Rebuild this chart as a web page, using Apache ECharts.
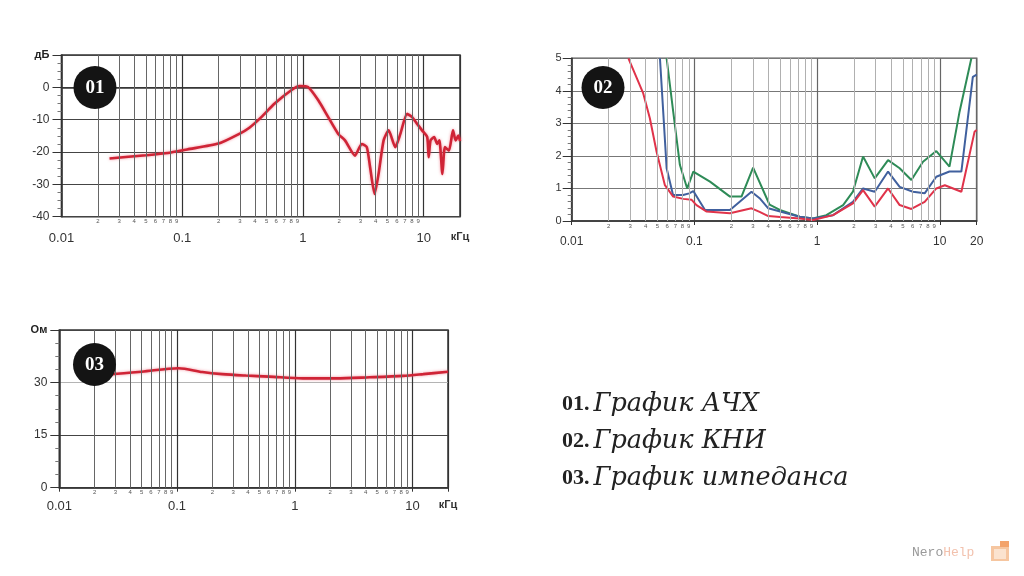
<!DOCTYPE html>
<html>
<head>
<meta charset="utf-8">
<script src="https://cdn.jsdelivr.net/npm/echarts@6/dist/echarts.min.js"></script>
<style>
html,body{margin:0;padding:0;background:#fff;}
#c{width:1024px;height:576px;}
</style>
</head>
<body>
<div id="c"></div>
<script>
// ---- Chart 01: frequency response (dB vs kHz)
const afcFreq = [0.025, 0.05, 0.076, 0.11, 0.2, 0.3, 0.36, 0.45, 0.58, 0.8, 0.94, 1.1, 1.34, 1.62, 1.96, 2.23, 2.7, 3.07, 3.38, 3.6, 3.92, 4.23, 4.66, 5.13, 5.82, 6.41, 7.29, 8.02, 8.83, 9.7, 10.7, 11.0, 11.4, 12.2, 12.96, 13.5, 14.3, 15.0, 16.2, 17.5, 18.4, 19.4, 20];
const afcDb   = [-22, -21, -20.3, -19.2, -17.4, -14.3, -12.5, -9.3, -5.1, -0.9, 0.4, 0.1, -4, -9.2, -14.4, -16.4, -21.1, -17.5, -18.5, -24.7, -33, -26.8, -16.4, -13.3, -18.5, -14.4, -8.2, -9.2, -11.3, -13.3, -15.4, -21.6, -16.4, -15.4, -17.5, -16.4, -26.8, -18.5, -19.6, -13.3, -16.4, -14.9, -16.6];
const afcYTicks = {min: -40, max: 10, step: 10, topLabel: 'дБ'};

// ---- Chart 02: THD (three curves)
const thdFreqRed   = [0.029, 0.0383, 0.0434, 0.0492, 0.0575, 0.0672, 0.081, 0.095, 0.104, 0.126, 0.195, 0.292, 0.34, 0.4, 0.5, 0.72, 0.93, 1.35, 1.96, 2.37, 2.95, 3.79, 4.71, 5.87, 7.53, 9.37, 11.0, 15, 19.2, 20];
const thdRed       = [5, 3.92, 3.15, 2.13, 1.1, 0.75, 0.68, 0.65, 0.49, 0.29, 0.24, 0.39, 0.28, 0.15, 0.12, 0.08, 0.03, 0.18, 0.54, 0.95, 0.44, 1.0, 0.49, 0.37, 0.59, 1.0, 1.1, 0.9, 2.74, 2.8];
const thdFreqBlue  = [0.0524, 0.0557, 0.0594, 0.067, 0.081, 0.0907, 0.098, 0.122, 0.195, 0.292, 0.34, 0.4, 0.5, 0.72, 0.93, 1.35, 1.96, 2.37, 2.95, 3.79, 4.71, 6.05, 7.53, 9.37, 12, 15, 18.6, 20];
const thdBlue      = [5, 3.36, 1.62, 0.8, 0.8, 0.85, 0.92, 0.34, 0.34, 0.9, 0.7, 0.39, 0.29, 0.13, 0.08, 0.18, 0.59, 1.0, 0.9, 1.52, 1.05, 0.9, 0.85, 1.36, 1.52, 1.52, 4.43, 4.5];
const thdFreqGreen = [0.0594, 0.0672, 0.0762, 0.0874, 0.098, 0.134, 0.195, 0.242, 0.301, 0.41, 0.497, 0.723, 0.927, 1.19, 1.63, 1.96, 2.37, 2.95, 3.79, 4.71, 5.87, 7.3, 9.37, 12.0, 14.5, 18.1];
const thdGreen     = [5, 3.36, 1.72, 1.0, 1.52, 1.21, 0.75, 0.75, 1.64, 0.5, 0.34, 0.13, 0.08, 0.18, 0.49, 0.9, 1.98, 1.31, 1.87, 1.62, 1.26, 1.82, 2.15, 1.67, 3.36, 5];

// ---- Chart 03: impedance (Ohm vs kHz)
const impFreq = [0.02, 0.028, 0.05, 0.103, 0.164, 0.242, 0.383, 0.605, 1.17, 2.24, 4.31, 8.3, 12.3, 20];
const impOhm  = [32.2, 32.4, 33.1, 34.1, 33.0, 32.4, 32.0, 31.7, 31.2, 31.2, 31.5, 31.9, 32.4, 33.1];

// ---- Text
const captions = [['01.', 'График АЧХ'], ['02.', 'График КНИ'], ['03.', 'График импеданса']];
const badges = ['01', '02', '03'];
const minorDigits = [2, 3, 4, 5, 6, 7, 8, 9];
const decades = [0.01, 0.1, 1, 10];

const pair = (xs, ys) => xs.map((x, i) => [x, ys[i]]);

function minorLines(maxF, color) {
  const out = [];
  decades.forEach(d => minorDigits.forEach(m => {
    const f = +(d * m).toPrecision(3);
    if (f < maxF) out.push({xAxis: f, label: {formatter: String(m)}});
  }));
  return {
    silent: true, symbol: ['none', 'none'], animation: false,
    lineStyle: {color: color, width: 1, type: 'solid'},
    emphasis: {disabled: true},
    label: {show: true, position: 'start', distance: 2, fontSize: 6, color: '#555', fontFamily: 'Liberation Sans'},
    data: out
  };
}

function xFmt(unit) {
  return v => {
    const r = +Number(v).toPrecision(3);
    if (r >= 19) return unit === 'кГц' ? '{u|кГц}' : unit;
    return String(r);
  };
}

function xAxis(gi, unit, decadeColor, margin, fs) {
  return {
    type: 'log', logBase: 10, gridIndex: gi, min: 0.01, max: 20,
    axisLine: {show: true, lineStyle: {color: '#333', width: 1.5}},
    axisTick: {show: true, length: 4, lineStyle: {color: '#333'}},
    axisLabel: {show: true, margin: margin, fontSize: fs, color: '#333', fontFamily: 'Liberation Sans',
      formatter: xFmt(unit), rich: {u: {fontWeight: 'bold', fontSize: 11, color: '#333', fontFamily: 'Liberation Sans'}}},
    splitLine: {show: true, lineStyle: {color: decadeColor, width: 1.2}}
  };
}

function yAxis(gi, min, max, step, topLabel, minorN, margin, fs, splitColor) {
  return {
    type: 'value', gridIndex: gi, min: min, max: max, interval: step,
    axisLine: {show: true, lineStyle: {color: '#333', width: 1.5}},
    axisTick: {show: true, length: 9, lineStyle: {color: '#333'}},
    minorTick: {show: true, splitNumber: minorN, length: 4, lineStyle: {color: '#777'}},
    axisLabel: {margin: margin, fontSize: fs, color: '#333', fontFamily: 'Liberation Sans',
      formatter: v => v === max ? (topLabel === String(max) ? topLabel : '{u|' + topLabel + '}') : String(v),
      rich: {u: {fontWeight: 'bold', fontSize: 11, color: '#222', fontFamily: 'Liberation Sans'}}},
    splitLine: {show: true, lineStyle: {color: splitColor, width: 1.2}}
  };
}

const redStyle = {color: '#cf2436', width: 2.6, shadowBlur: 3, shadowColor: 'rgba(235,80,100,0.6)'};

const option = {
  animation: false,
  backgroundColor: '#ffffff',
  grid: [
    {left: 61.5, top: 55, width: 398.5, height: 161.7, show: true, borderColor: '#333', borderWidth: 1.5, backgroundColor: 'transparent'},
    {left: 571.7, top: 58.3, width: 405, height: 162.7, show: true, borderColor: '#555', borderWidth: 1.5, backgroundColor: 'transparent'},
    {left: 59.3, top: 330, width: 388.7, height: 157.7, show: true, borderColor: '#333', borderWidth: 1.5, backgroundColor: 'transparent'}
  ],
  xAxis: [
    xAxis(0, 'кГц', '#333', 15, 13),
    xAxis(1, '20', '#666', 15, 12),
    xAxis(2, 'кГц', '#333', 12, 13)
  ],
  yAxis: [
    yAxis(0, afcYTicks.min, afcYTicks.max, afcYTicks.step, afcYTicks.topLabel, 4, 12, 12, '#444'),
    yAxis(1, 0, 5, 1, '5', 5, 10, 11, '#777'),
    yAxis(2, 0, 45, 15, 'Ом', 4, 12, 12, ['#444', '#444', '#b4b4b4', '#444'])
  ],
  series: [
    {type: 'line', xAxisIndex: 0, yAxisIndex: 0, data: [], z: 1, markLine: minorLines(20, '#666')},
    {type: 'line', xAxisIndex: 1, yAxisIndex: 1, data: [], z: 1, markLine: minorLines(20, '#b0b0b0')},
    {type: 'line', xAxisIndex: 2, yAxisIndex: 2, data: [], z: 1, markLine: minorLines(20, '#666')},
    {type: 'line', xAxisIndex: 0, yAxisIndex: 0, data: pair(afcFreq, afcDb), showSymbol: false, smooth: 0.2, z: 3, lineStyle: redStyle},
    {type: 'line', xAxisIndex: 1, yAxisIndex: 1, data: pair(thdFreqGreen, thdGreen), showSymbol: false, z: 3, lineStyle: {color: '#2e8b57', width: 2}},
    {type: 'line', xAxisIndex: 1, yAxisIndex: 1, data: pair(thdFreqBlue, thdBlue), showSymbol: false, z: 3, lineStyle: {color: '#40609e', width: 2}},
    {type: 'line', xAxisIndex: 1, yAxisIndex: 1, data: pair(thdFreqRed, thdRed), showSymbol: false, z: 4, lineStyle: {color: '#e0334a', width: 2}},
    {type: 'line', xAxisIndex: 2, yAxisIndex: 2, data: pair(impFreq, impOhm), showSymbol: false, smooth: 0.3, z: 3, lineStyle: redStyle}
  ],
  graphic: []
};

const badgePos = [[95, 87.5], [603, 87.5], [94.5, 364.5]];
badges.forEach((b, i) => {
  option.graphic.push({type: 'circle', z: 100, shape: {cx: badgePos[i][0], cy: badgePos[i][1], r: 21.5}, style: {fill: '#141414'}});
  option.graphic.push({type: 'text', z: 101, x: badgePos[i][0], y: badgePos[i][1] + 1,
    style: {text: b, fill: '#fff', font: 'bold 19px "Liberation Serif"', align: 'center', verticalAlign: 'middle'}});
});

const capY = [404, 441, 478];
captions.forEach((c, i) => {
  option.graphic.push({type: 'text', z: 100, x: 562, y: capY[i],
    style: {text: '{n|' + c[0] + '}{t|' + c[1] + '}', verticalAlign: 'middle',
      rich: {
        n: {fontFamily: 'Liberation Serif', fontWeight: 'bold', fontSize: 22, fill: '#222', padding: [0, 4, 0, 0]},
        t: {fontFamily: 'DejaVu Serif', fontStyle: 'italic', fontSize: 25.5, fill: '#222'}
      }}});
});

// watermark
option.graphic.push({type: 'text', z: 100, x: 912, y: 553,
  style: {text: '{a|Nero}{b|Help}', verticalAlign: 'middle',
    rich: {a: {fontFamily: 'Liberation Mono', fontSize: 13, fill: '#9a9a9a'}, b: {fontFamily: 'Liberation Mono', fontSize: 13, fill: '#f2c1ad'}}}});
option.graphic.push({type: 'rect', z: 100, shape: {x: 991, y: 546, width: 18, height: 15}, style: {fill: '#f6c6a0'}});
option.graphic.push({type: 'rect', z: 101, shape: {x: 994, y: 549, width: 12, height: 10}, style: {fill: '#fbe3cf'}});
option.graphic.push({type: 'rect', z: 101, shape: {x: 1000, y: 541, width: 9, height: 6}, style: {fill: '#f3a36b'}});

const chart = echarts.init(document.getElementById('c'), null, {renderer: 'canvas'});
chart.setOption(option);
</script>
</body>
</html>
